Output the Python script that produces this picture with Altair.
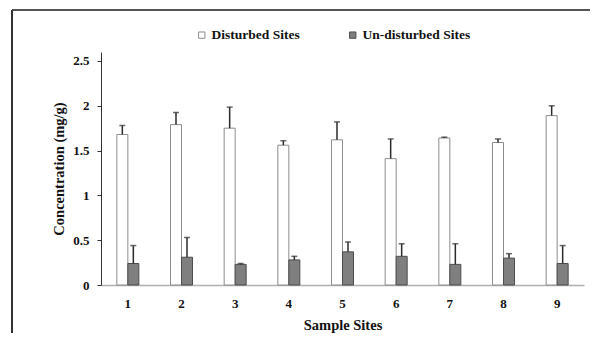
import altair as alt
import pandas as pd

sites = ["1", "2", "3", "4", "5", "6", "7", "8", "9"]
disturbed = [1.68, 1.79, 1.75, 1.56, 1.62, 1.41, 1.64, 1.59, 1.89]
disturbed_err = [0.10, 0.135, 0.235, 0.05, 0.20, 0.22, 0.01, 0.04, 0.11]
undisturbed = [0.24, 0.31, 0.23, 0.28, 0.37, 0.32, 0.23, 0.30, 0.24]
undisturbed_err = [0.20, 0.22, 0.01, 0.04, 0.11, 0.14, 0.23, 0.05, 0.20]
series = ["Disturbed Sites", "Un-disturbed Sites"]

rows = []
for i, s in enumerate(sites):
    rows.append({"site": s, "series": series[0], "value": disturbed[i],
                 "top": disturbed[i] + disturbed_err[i]})
    rows.append({"site": s, "series": series[1], "value": undisturbed[i],
                 "top": undisturbed[i] + undisturbed_err[i]})
df = pd.DataFrame(rows)

FONT = "Liberation Serif"

x_enc = alt.X("site:N", sort=sites,
              scale=alt.Scale(paddingInner=0.59, paddingOuter=0.295),
              axis=alt.Axis(title="Sample Sites", labelAngle=0, tickSize=0,
                            labelPadding=12, titlePadding=8,
                            domainColor="#b0b0b0", domainWidth=1.5))
xo = alt.XOffset("series:N", sort=series, scale=alt.Scale(paddingInner=0, paddingOuter=0))

bars = alt.Chart(df).mark_bar(strokeWidth=1).encode(
    x=x_enc,
    xOffset=xo,
    y=alt.Y("value:Q", scale=alt.Scale(domain=[0, 2.5]),
            axis=alt.Axis(title="Concentration (mg/g)", values=[0, 0.5, 1, 1.5, 2, 2.5],
                          format="~g", grid=False, tickSize=4, labelPadding=8,
                          titlePadding=6, domainColor="#333333", tickColor="#333333")),
    fill=alt.Fill("series:N", sort=series,
                  scale=alt.Scale(domain=series, range=["#ffffff", "#7f7f7f"]),
                  legend=alt.Legend(title=None, orient="none", legendX=94, legendY=-24,
                                    direction="horizontal", symbolType="square",
                                    symbolSize=40, symbolStrokeWidth=1,
                                    symbolStrokeColor="#555555", labelFontSize=13.5,
                                    labelFont=FONT, labelFontWeight="bold",
                                    labelColor="#111111", columnPadding=46,
                                    labelOffset=3)),
    stroke=alt.Stroke("series:N", sort=series,
                      scale=alt.Scale(domain=series, range=["#8c8c8c", "#4d4d4d"]),
                      legend=None),
)

err = alt.Chart(df).mark_rule(color="#2b2b2b", strokeWidth=1.5).encode(
    x=alt.X("site:N", sort=sites), xOffset=xo,
    y="value:Q", y2="top:Q")

caps = alt.Chart(df).mark_tick(color="#2b2b2b", thickness=1.5, size=6).encode(
    x=alt.X("site:N", sort=sites), xOffset=xo,
    y="top:Q")

frame_top = alt.Chart(df).mark_rule(color="#555555", strokeWidth=2).encode(
    x=alt.value(-89), x2=alt.value(489), y=alt.value(-42))
frame_left = alt.Chart(df).mark_rule(color="#333333", strokeWidth=1.5).encode(
    x=alt.value(-89), y=alt.value(-42), y2=alt.value(281))

chart = alt.layer(bars, err, caps, frame_top, frame_left).properties(
    width=483, height=233,
    autosize=alt.AutoSizeParams(type="none"),
    padding={"left": 101, "top": 52, "right": 6, "bottom": 48},
    background="white",
).configure_view(stroke="transparent", strokeWidth=0).configure_axis(
    labelFont=FONT, titleFont=FONT, labelFontWeight="bold", titleFontWeight="bold",
    labelFontSize=13, titleFontSize=14.5, labelColor="#111111", titleColor="#111111",
)

chart.save("out.html", embed_options={"renderer": "svg", "actions": False})
